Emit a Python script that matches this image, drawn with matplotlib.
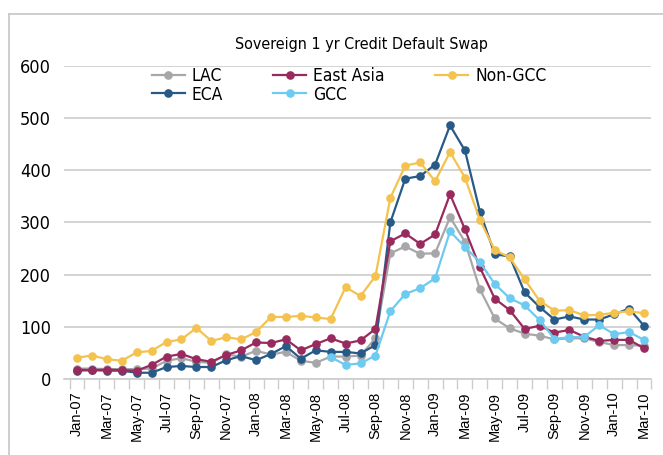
import numpy as np
import pandas as pd
import matplotlib
matplotlib.use("Agg")
import matplotlib.pyplot as plt
from matplotlib.lines import Line2D
from matplotlib import font_manager

# monthly, Jan-07 .. Mar-10
months = pd.date_range("2007-01-01", "2010-03-01", freq="MS")
labels = [m.strftime("%b-%y") for m in months]

lac = [20, 20, 19, 19, 19, 20, 35, 40, 33, 31, 47, 43, 54, 47, 52, 35, 31, 43, 43, 45,
       78, 241, 254, 240, 241, 310, 263, 172, 116, 97, 87, 83, 76, 78, 78, 71, 65, 65, 64]
eca = [16, 17, 16, 16, 12, 12, 23, 25, 23, 23, 36, 44, 36, 48, 63, 39, 55, 52, 52, 49,
       65, 300, 384, 389, 411, 486, 438, 321, 239, 235, 166, 138, 114, 120, 114, 114, 124, 135, 102]
east_asia = [18, 17, 18, 17, 16, 27, 43, 48, 38, 33, 46, 55, 70, 69, 76, 55, 67, 78, 68, 74,
             96, 264, 279, 259, 277, 354, 287, 214, 154, 132, 96, 102, 89, 94, 81, 73, 75, 75, 59]
gcc = [None] * 17 + [42, 27, 30, 45, 130, 163, 174, 193, 283, 253, 224, 182, 155, 141, 113,
                     77, 80, 81, 103, 86, 90, 75]
non_gcc = [41, 45, 38, 35, 51, 54, 71, 76, 98, 73, 80, 76, 90, 119, 119, 121, 118, 115, 176, 159,
           197, 347, 409, 415, 379, 435, 386, 305, 247, 233, 191, 150, 131, 132, 122, 123, 127, 130, 126]

series = [
    ("LAC", lac, "#a7a7a9"),
    ("ECA", eca, "#285a88"),
    ("East Asia", east_asia, "#992a5d"),
    ("GCC", gcc, "#6dcaf0"),
    ("Non-GCC", non_gcc, "#f3c24f"),
]

# pick a condensed face if one is around
names = {f.name for f in font_manager.fontManager.ttflist}
cond = [n for n in ["Liberation Sans Narrow", "DejaVu Sans Condensed"] if n in names]
narrow = cond[:1] + ["DejaVu Sans"]
plt.rcParams["font.family"] = ["Liberation Sans", "DejaVu Sans"]

fig = plt.figure(figsize=(6.63, 4.55), dpi=100)
ax = fig.add_axes([0.0959, 0.167, 0.8867, 0.688])

x = np.arange(len(months))
for name, vals, col in series:
    y = np.array([np.nan if v is None else v for v in vals], dtype=float)
    ax.plot(x, y, color=col, lw=1.6, marker="o", ms=5.2, label=name)

ax.set_xlim(-0.9, len(months) - 0.5)
ax.set_ylim(0, 600)
ax.set_yticks(range(0, 601, 100))
ax.grid(axis="y", color="#cccccc", lw=1.2)
ax.set_axisbelow(True)
for s in ["top", "right", "left"]:
    ax.spines[s].set_visible(False)
ax.spines["bottom"].set_color("#cccccc")
ax.spines["bottom"].set_linewidth(1.2)

ax.set_xticks(x[::2])
ax.set_xticklabels(labels[::2], rotation=90, fontsize=10.5)
ax.set_xticks(np.arange(-0.5, len(months)), minor=True)
ax.tick_params(axis="x", which="major", length=0, pad=9)
ax.tick_params(axis="x", which="minor", length=7, color="#cccccc", width=1)
ax.tick_params(axis="y", length=0, pad=9)
for t in ax.get_yticklabels():
    t.set_family(narrow)
    t.set_stretch("condensed")
    t.set_fontsize(13)

fig.text(0.545, 0.903, "Sovereign 1 yr Credit Default Swap", ha="center", va="center",
         fontsize=11.5, family=narrow, stretch="condensed")

leg = ax.legend(ncol=3, loc="upper left", bbox_to_anchor=(0.138, 1.02), frameon=False,
                prop={"family": narrow, "size": 12.5, "stretch": "condensed"},
                handlelength=1.9, handletextpad=0.4,
                labelspacing=0.05, columnspacing=2.9, borderaxespad=0)

# light frame round the chart
fig.add_artist(Line2D([9 / 663, 9 / 663], [0, 1 - 14 / 455], color="#c6c6c6", lw=1.2))
fig.add_artist(Line2D([9 / 663, 1], [1 - 14 / 455, 1 - 14 / 455], color="#c6c6c6", lw=1.2))

fig.savefig("out.png", dpi=100)
